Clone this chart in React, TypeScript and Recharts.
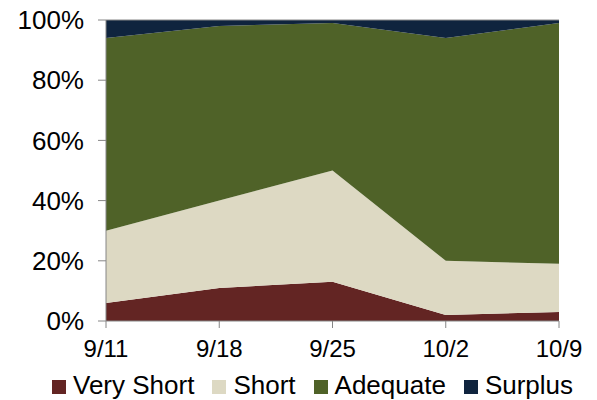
import { AreaChart, Area, XAxis, YAxis, Legend, ReferenceLine } from "recharts";

const weeks = ["9/11", "9/18", "9/25", "10/2", "10/9"];
const veryShort = [6, 11, 13, 2, 3];
const short = [24, 29, 37, 18, 16];
const adequate = [64, 58, 49, 74, 80];
const surplus = [6, 2, 1, 6, 1];
const yTicks = [0, 20, 40, 60, 80, 100];

const series = [
  { key: "veryShort", name: "Very Short", color: "#632523" },
  { key: "short", name: "Short", color: "#DDD9C3" },
  { key: "adequate", name: "Adequate", color: "#4F6228" },
  { key: "surplus", name: "Surplus", color: "#0F243E" },
];

const data = weeks.map((week, i) => ({
  week,
  veryShort: veryShort[i],
  short: short[i],
  adequate: adequate[i],
  surplus: surplus[i],
}));

const font = "'Liberation Sans', Arial, sans-serif";
const axisGray = "#868686";

function LegendBox() {
  return (
    <div
      style={{
        display: "flex",
        alignItems: "center",
        paddingLeft: 52,
        paddingTop: 4,
        height: 30,
        fontFamily: font,
        fontSize: 26,
        lineHeight: "30px",
        color: "#000",
        whiteSpace: "nowrap",
      }}
    >
      {series.map((s) => (
        <div key={s.key} style={{ display: "flex", alignItems: "center", marginRight: 18 }}>
          <span
            style={{ width: 14, height: 14, background: s.color, marginRight: 7, marginTop: 4, flexShrink: 0 }}
          />
          <span>{s.name}</span>
        </div>
      ))}
    </div>
  );
}

export default function App() {
  return (
    <div style={{ position: "absolute", left: 0, top: 0, background: "#fff" }}>
      <AreaChart
        width={597}
        height={400}
        data={data}
        margin={{ top: 20, right: 38, left: 0, bottom: 0 }}
      >
        <XAxis
          dataKey="week"
          tick={{ fill: "#000", fontSize: 24, fontFamily: font }}
          stroke={axisGray}
          tickSize={7}
          tickMargin={12}
          height={45}
          interval={0}
        />
        <YAxis
          domain={[0, 100]}
          ticks={yTicks}
          tickFormatter={(v: number) => `${v}%`}
          tick={{ fill: "#000", fontSize: 26, fontFamily: font }}
          stroke={axisGray}
          tickSize={8}
          tickMargin={14}
          width={106}
        />
        {series.map((s) => (
          <Area
            key={s.key}
            type="linear"
            dataKey={s.key}
            name={s.name}
            stackId="1"
            stroke="none"
            fill={s.color}
            fillOpacity={1}
            isAnimationActive={false}
          />
        ))}
        <ReferenceLine y={100} stroke={axisGray} strokeWidth={1} />
        <Legend
          verticalAlign="bottom"
          wrapperStyle={{ left: 0, width: 597 }}
          content={() => <LegendBox />}
        />
      </AreaChart>
    </div>
  );
}
